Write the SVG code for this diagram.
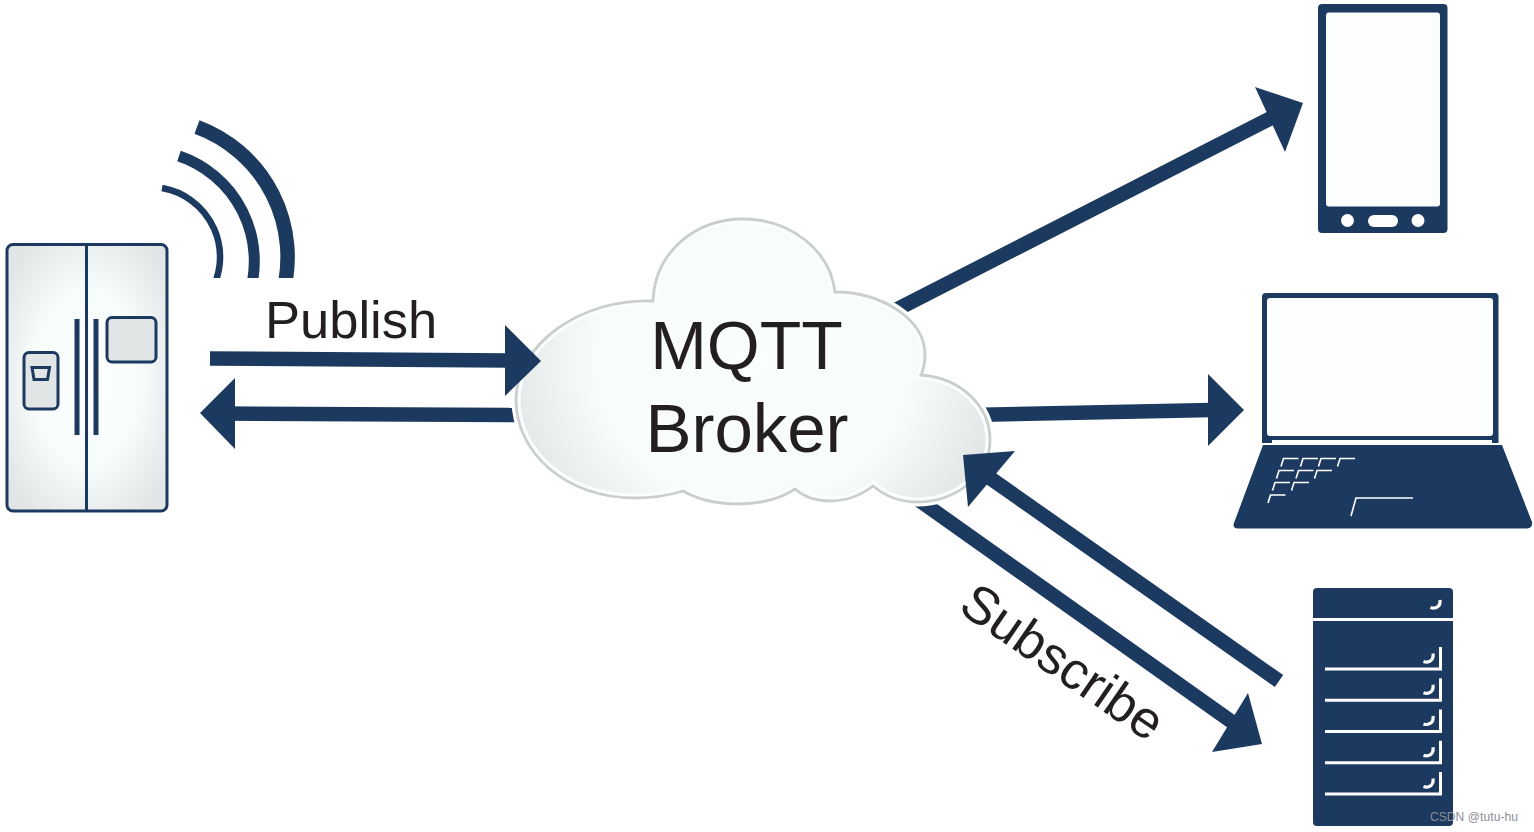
<svg xmlns="http://www.w3.org/2000/svg" xmlns:xlink="http://www.w3.org/1999/xlink" width="1534" height="832" viewBox="0 0 1534 832">
<style>
.navy{fill:#1c3a60}
.shaft{stroke:#1c3a60;fill:none;stroke-width:14.5}
.ol{stroke:#1c3a60;stroke-width:3}
.wave{stroke:#1c3a60;fill:none}
.lbl{font-family:"Liberation Sans",Arial,sans-serif;fill:#231f20}
.ws{fill:none;stroke:#fff;stroke-width:1.6}
.rw{fill:none;stroke:#fff;stroke-width:3}
.curl{fill:none;stroke:#fff;stroke-width:3.2}
</style>
<defs>
<radialGradient id="fg" cx="0.5" cy="0.5" r="0.62"><stop offset="0" stop-color="#fdffff"/><stop offset="0.55" stop-color="#f8fbfc"/><stop offset="1" stop-color="#e1e5e6"/></radialGradient>
<radialGradient id="cg" cx="0.5" cy="0.5" r="0.55" gradientTransform="translate(0.5 0.5) scale(1 1.5) translate(-0.5 -0.5)"><stop offset="0" stop-color="#fbfeff"/><stop offset="0.62" stop-color="#f7fbfc"/><stop offset="1" stop-color="#e0e4e5"/></radialGradient>
<path id="cp" d="M653,301 C655,252 695,219 743,219 C790,219 830,250 835,292 C880,292 925,318 925,355 C925,362 924,368 921,375 C960,378 990,405 990,440 C990,476 955,502 917,502 C900,502 885,496 873,486 C860,496 845,501 830,501 C815,501 803,496 795,489 C780,499 760,504 738,504 C715,504 697,499 683,491 C670,495 650,498 635,498 C565,498 516,452 516,400 C516,345 580,298 653,301 Z"/>
<clipPath id="cc"><use xlink:href="#cp"/></clipPath>
<clipPath id="wc"><rect x="150" y="100" width="160" height="178"/></clipPath>
<path id="key" d="M-2.500,8 L0,0 H15"/>
<g id="srow"><path class="rw" d="M1325,669 H1440.500 V647"/><path class="curl" d="M1423.500,661.500 C1429,663.500 1434,660 1433,653.500"/></g>
</defs>

<g id="connectors">
<path class="shaft" d="M210,358.500 L510,360.500"/>
<path class="shaft" d="M220,413.500 L530,415"/>
<polygon class="navy" points="200,413 235,378 235,449"/>
<path class="shaft" d="M880,318 L1275,116"/>
<polygon class="navy" points="1255,87 1303,103 1285,152"/>
<path class="shaft" d="M970,415 L1212,410"/>
<polygon class="navy" points="1208,374 1244,410 1208,446"/>
<path class="shaft" d="M916,498 L1240,727.700"/>
<polygon class="navy" points="1248,693 1262,744 1212,752"/>
</g>

<g id="broker">
<use xlink:href="#cp" fill="none" stroke="#fff" stroke-width="9"/>
<use xlink:href="#cp" fill="url(#cg)"/>
<use xlink:href="#cp" fill="none" stroke="#fcfeff" stroke-width="9" clip-path="url(#cc)"/>
<use xlink:href="#cp" fill="none" stroke="#c9cecf" stroke-width="2.800"/>
<text class="lbl" x="746.500" y="369" font-size="68" text-anchor="middle">MQTT</text>
<text class="lbl" x="747" y="452" font-size="69" text-anchor="middle">Broker</text>
</g>

<g id="connectors-over">
<polygon class="navy" points="505,325 541,361 505,396"/>
<path class="shaft" d="M1279,681 L985,474.500"/>
<polygon class="navy" points="963,455 1015,451 968,507"/>
</g>

<g id="fridge">
<rect x="7" y="244.500" width="160" height="266.500" rx="6" fill="url(#fg)" class="ol"/>
<path class="ol" d="M86.500,244 V511" fill="none"/>
<rect x="74.500" y="319" width="5" height="116" class="navy"/>
<rect x="93.500" y="319" width="5" height="116" class="navy"/>
<rect x="107" y="317.500" width="49" height="44.500" rx="5" fill="#e1e5e6" class="ol"/>
<rect x="24" y="352.500" width="34" height="56.500" rx="5" fill="#e1e5e6" class="ol"/>
<polygon points="32,367.500 49.500,367.500 47.500,379.500 34,379.500" fill="none" class="ol"/>
</g>

<g id="waves" clip-path="url(#wc)">
<path class="wave" stroke-width="6.500" d="M162,188 A70,70 0 0 1 208.800,295"/>
<path class="wave" stroke-width="11" d="M179,156 A111,111 0 0 1 249,295"/>
<path class="wave" stroke-width="14.500" d="M197,127 A138.600,138.600 0 0 1 282.300,295"/>
</g>

<text id="publish" class="lbl" x="265" y="338" font-size="52.500">Publish</text>
<text id="subscribe" class="lbl" font-size="52.500" transform="translate(956.500,610.500) rotate(34.500)">Subscribe</text>

<g id="phone">
<rect x="1318" y="4" width="129.500" height="229" rx="4" class="navy"/>
<rect x="1326" y="12.500" width="114" height="194" rx="3" fill="#fcfefe"/>
<circle cx="1347.500" cy="220.500" r="6.500" fill="#fff"/>
<circle cx="1418" cy="220.500" r="6.500" fill="#fff"/>
<rect x="1368" y="215" width="30" height="12" rx="6" fill="#fff"/>
</g>

<g id="laptop">
<path class="navy" d="M1262,443 V297 Q1262,293 1266,293 H1495 Q1498.500,293 1498.500,297 V443 Z"/>
<rect x="1267" y="298" width="226" height="138" rx="3" fill="#fcfefe"/>
<path class="navy" d="M1263,445 H1502 L1532,522 Q1533,528 1527,528.500 H1238 Q1232,528 1234,523 Z"/>
<rect x="1272" y="440" width="220" height="5" fill="#fff"/>
<g class="ws">
<use xlink:href="#key" x="1283.500" y="458.500"/><use xlink:href="#key" x="1303" y="458.500"/><use xlink:href="#key" x="1321" y="458.500"/><use xlink:href="#key" x="1340" y="458.500"/>
<use xlink:href="#key" x="1279" y="470.500"/><use xlink:href="#key" x="1298.500" y="470.500"/><use xlink:href="#key" x="1317" y="470.500"/>
<use xlink:href="#key" x="1275" y="482.500"/><use xlink:href="#key" x="1294" y="482.500"/>
<use xlink:href="#key" x="1270.500" y="495"/>
<path d="M1351,516 L1356,498 H1413"/>
</g>
</g>

<g id="server">
<rect x="1313" y="588" width="140" height="238" rx="4" class="navy"/>
<rect x="1313" y="618" width="140" height="3" fill="#fff"/>
<path class="curl" d="M1430.500,607.500 C1436,609.500 1441,606 1440,600"/>
<use xlink:href="#srow"/>
<use xlink:href="#srow" y="31.200"/>
<use xlink:href="#srow" y="62.400"/>
<use xlink:href="#srow" y="93.700"/>
<use xlink:href="#srow" y="125"/>
</g>

<text id="watermark" x="1430" y="821" font-family="'Liberation Sans',Arial,sans-serif" font-size="12" fill="#8a8f96" textLength="88">CSDN @tutu-hu</text>
</svg>
